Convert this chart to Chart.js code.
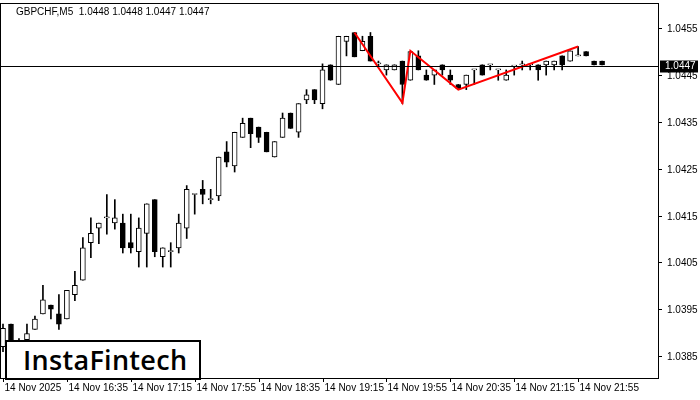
<!DOCTYPE html>
<html><head><meta charset="utf-8">
<script src="https://cdn.jsdelivr.net/npm/chart.js@4"></script>
<style>body{margin:0;background:#fff}#w{position:relative;width:700px;height:400px}
#logo{position:absolute;left:5px;top:340px;width:196px;border:2px solid #000;background:#fff;font:600 27px 'Open Sans',sans-serif;line-height:36px;padding-left:16px;box-sizing:border-box;height:40px;letter-spacing:0.3px}
</style></head><body><div id="w"><canvas id="c" width="700" height="400"></canvas><div id="logo">InstaFintech</div></div>
<script>
const timeLabels=["14 Nov 2025","14 Nov 16:35","14 Nov 17:15","14 Nov 17:55","14 Nov 18:35","14 Nov 19:15","14 Nov 19:55","14 Nov 20:35","14 Nov 21:15","14 Nov 21:55"];
const priceTicks=[1.0385,1.0395,1.0405,1.0415,1.0425,1.0435,1.0445,1.0455];
const opens=[1.03870,1.03918,1.03870,1.03885,1.03907,1.03940,1.03959,1.03940,1.03929,1.03981,1.04012,1.04092,1.04123,1.04145,1.04134,1.04134,1.04092,1.04073,1.04112,1.04184,1.04062,1.04073,1.04081,1.04123,1.04195,1.04206,1.04184,1.04192,1.04286,1.04256,1.04317,1.04358,1.04339,1.04328,1.04275,1.04317,1.04369,1.04328,1.04397,1.04419,1.04389,1.04472,1.04430,1.04522,1.04541,1.04502,1.04533,1.04474,1.04461,1.04461,1.04480,1.04439,1.04491,1.04450,1.04450,1.04472,1.04450,1.04430,1.04430,1.04461,1.04472,1.04472,1.04461,1.04439,1.04469,1.04472,1.04472,1.04472,1.04472,1.04472,1.04491,1.04480,1.04491,1.04500,1.04480,1.04480];
const highs=[1.03918,1.03918,1.03887,1.03918,1.03935,1.04001,1.03959,1.03981,1.03990,1.04031,1.04103,1.04145,1.04134,1.04195,1.04184,1.04153,1.04153,1.04145,1.04175,1.04184,1.04081,1.04092,1.04153,1.04214,1.04195,1.04225,1.04206,1.04275,1.04308,1.04328,1.04358,1.04358,1.04339,1.04328,1.04308,1.04369,1.04369,1.04389,1.04419,1.04419,1.04474,1.04472,1.04533,1.04533,1.04541,1.04533,1.04541,1.04480,1.04472,1.04472,1.04480,1.04500,1.04502,1.04461,1.04461,1.04472,1.04461,1.04430,1.04450,1.04461,1.04472,1.04472,1.04461,1.04461,1.04469,1.04480,1.04472,1.04472,1.04480,1.04480,1.04491,1.04502,1.04511,1.04500,1.04480,1.04480];
const lows=[1.03859,1.03848,1.03870,1.03859,1.03907,1.03940,1.03929,1.03907,1.03929,1.03968,1.04012,1.04060,1.04090,1.04110,1.04121,1.04070,1.04070,1.04040,1.04040,1.04062,1.04040,1.04040,1.04070,1.04101,1.04153,1.04175,1.04175,1.04182,1.04254,1.04243,1.04317,1.04295,1.04306,1.04286,1.04275,1.04317,1.04336,1.04317,1.04389,1.04389,1.04378,1.04439,1.04430,1.04491,1.04489,1.04502,1.04480,1.04469,1.04450,1.04461,1.04389,1.04439,1.04461,1.04439,1.04430,1.04450,1.04430,1.04421,1.04419,1.04430,1.04450,1.04461,1.04439,1.04439,1.04450,1.04461,1.04461,1.04439,1.04450,1.04461,1.04461,1.04480,1.04491,1.04491,1.04472,1.04472];
const closes=[1.03909,1.03870,1.03879,1.03898,1.03929,1.03970,1.03950,1.03918,1.03990,1.04001,1.04081,1.04112,1.04134,1.04145,1.04145,1.04081,1.04081,1.04123,1.04175,1.04073,1.04081,1.04073,1.04134,1.04206,1.04195,1.04195,1.04184,1.04275,1.04264,1.04328,1.04347,1.04325,1.04317,1.04286,1.04308,1.04358,1.04336,1.04389,1.04408,1.04397,1.04461,1.04439,1.04533,1.04533,1.04489,1.04522,1.04480,1.04474,1.04472,1.04472,1.04430,1.04500,1.04461,1.04439,1.04461,1.04461,1.04439,1.04421,1.04450,1.04461,1.04450,1.04472,1.04461,1.04450,1.04469,1.04472,1.04472,1.04461,1.04480,1.04480,1.04472,1.04502,1.04491,1.04491,1.04472,1.04472];
const patternIdx=[44,50,51,57,72];
const patternVal=[1.04541,1.04391,1.04502,1.04419,1.04511];
const currentPrice=1.0447;
const title="GBPCHF,M5  1.0448 1.0448 1.0447 1.0447";
const FONT='"Liberation Sans"';

const bodies=opens.map((o,i)=>({x:i,y:[o,closes[i]]}));
const wicks=opens.map((o,i)=>({x:i,y:[lows[i],highs[i]]}));
const bodyFill=opens.map((o,i)=>closes[i]>=o?'#fff':'#000');
const framePlugin={id:'frame',afterDraw(ch){const a=ch.chartArea,c=ch.ctx,y=ch.scales.y,x=ch.scales.x;
 c.save();c.strokeStyle='#000';c.lineWidth=1;
 c.strokeRect(a.left+0.5,a.top+0.5,a.right-a.left-1,a.bottom-a.top);
 const py=Math.round(y.getPixelForValue(currentPrice))+0.5;
 c.beginPath();c.moveTo(a.left,py);c.lineTo(a.right,py);c.stroke();
 c.font='10px '+FONT;c.fillStyle='#000';c.textAlign='left';c.textBaseline='middle';
 priceTicks.forEach(v=>{const ty=Math.round(y.getPixelForValue(v))+0.5;c.beginPath();c.moveTo(a.right,ty);c.lineTo(a.right+3,ty);c.stroke();
  c.fillText(v.toFixed(4),a.right+8,ty+1);});
 c.textBaseline='top';
 timeLabels.forEach((t,i)=>{const px=Math.round(x.getPixelForValue(i*8))+0.5;
  c.beginPath();c.moveTo(px,a.bottom);c.lineTo(px,a.bottom+4);c.stroke();
  c.fillText(t,px+1,a.bottom+5);});
 c.fillRect(a.right+1,py-6,38,12);
 c.fillStyle='#fff';c.textBaseline='middle';c.fillText(currentPrice.toFixed(4),a.right+6,py);
 c.fillStyle='#000';c.fillText(title,a.left+16,12);
 c.restore();}};
new Chart(document.getElementById('c'),{
 data:{datasets:[
  {type:'line',data:patternIdx.map((x,i)=>({x,y:patternVal[i]})),borderColor:'#ff0000',borderWidth:2,pointRadius:0,order:0},
  {type:'bar',data:bodies,backgroundColor:bodyFill,borderColor:'#000',borderWidth:1,borderSkipped:false,barThickness:5,minBarLength:1,grouped:false,order:1},
  {type:'bar',data:wicks,backgroundColor:'#000',borderWidth:0,barThickness:1,grouped:false,order:2}
 ]},
 options:{responsive:false,animation:false,layout:{padding:{top:3,left:0,right:0,bottom:0}},
  plugins:{legend:{display:false},tooltip:{enabled:false}},
  scales:{
   x:{type:'linear',offset:false,min:-0.375,max:82.125,grid:{display:false,offset:false},border:{display:false},
    afterFit:s=>{s.height=22;},ticks:{display:false}},
   y:{position:'right',min:1.03803,max:1.04604,grid:{display:false},border:{display:false},
    afterBuildTicks:s=>{s.ticks=priceTicks.map(v=>({value:v}));},
    afterFit:s=>{s.width=41;s.paddingTop=0;s.paddingBottom=0;},
    ticks:{display:false}}
  }},
 plugins:[framePlugin]});
</script></body></html>
